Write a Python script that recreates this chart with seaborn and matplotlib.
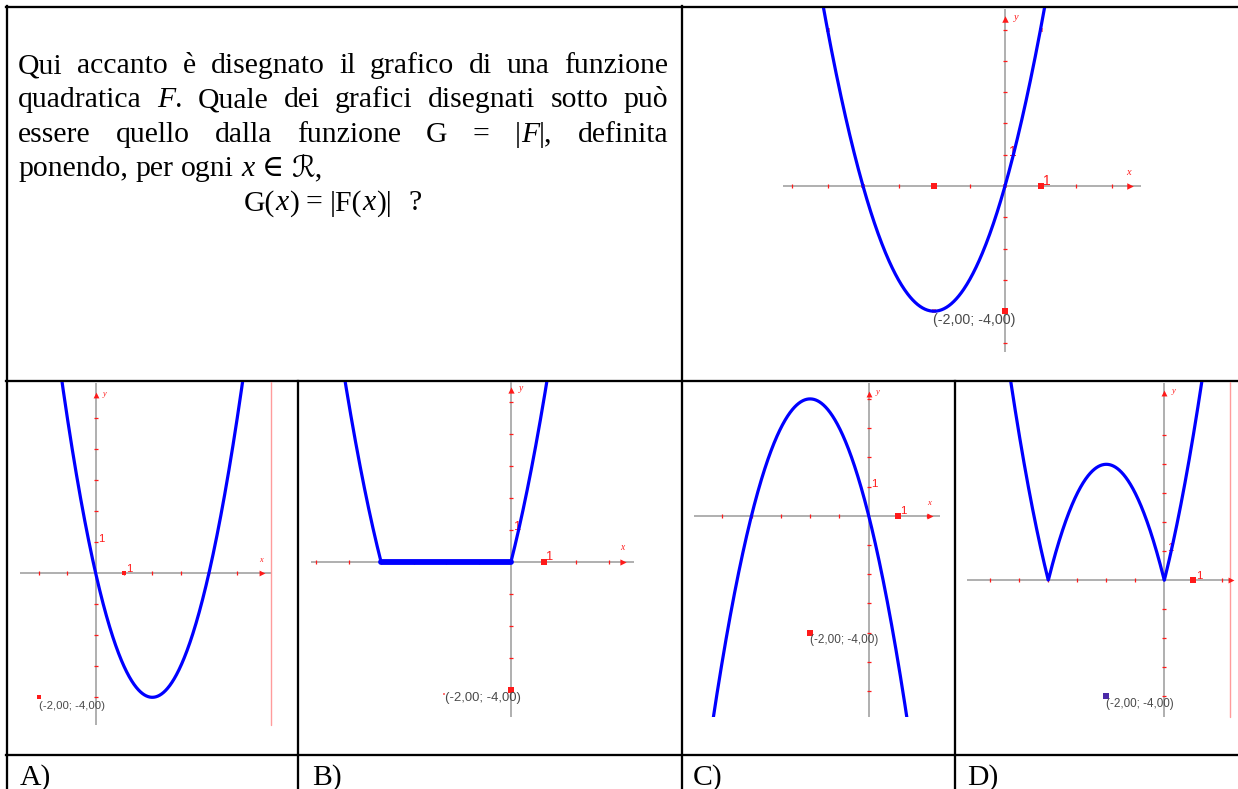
import numpy as np
import pandas as pd
import matplotlib
matplotlib.use("Agg")
import matplotlib.pyplot as plt
import seaborn as sns

W, H = 1238, 789

# ---------------- data ----------------
F_COEFFS = [1.0, 4.0, 0.0]            # F(x) = x^2 + 4x  (vertex (-2, -4), roots -4 and 0)
VERTEX = (-2.0, -4.0)
VERTEX_LABEL = "(-2,00; -4,00)"
OPTION_LABELS = ["A)", "B)", "C)", "D)"]
OPTION_KINDS = ["mirror", "clip", "neg", "abs"]   # F(-x), max(F,0), -F, |F|

Q_LINES = [
    [[("Qui", 0)], [("accanto", 0)], [("è", 0)], [("disegnato", 0)], [("il", 0)],
     [("grafico", 0)], [("di", 0)], [("una", 0)], [("funzione", 0)]],
    [[("quadratica", 0)], [("F", 1), (".", 0)], [("Quale", 0)], [("dei", 0)], [("grafici", 0)],
     [("disegnati", 0)], [("sotto", 0)], [("può", 0)]],
    [[("essere", 0)], [("quello", 0)], [("dalla", 0)], [("funzione", 0)], [("G", 0)], [("=", 0)],
     [("|", 0), ("F", 1), ("|,", 0)], [("definita", 0)]],
    [[("ponendo,", 0)], [("per", 0)], [("ogni", 0)], [("x", 1)], [("∈", 0)], [("ℛ,", 0)]],
    [[("G(", 0), ("x", 1), (")", 0)], [("=", 0)], [("|F(", 0), ("x", 1), (")|", 0)], [("?", 0)]],
]
Q_JUSTIFY = [True, True, True, False, False]

# tick values of each little coordinate system
TOP_XTICKS, TOP_YTICKS = list(range(-6, 4)), list(range(-5, 6))
A_XTICKS, A_YTICKS = list(range(-2, 6)), list(range(-4, 6))
B_XTICKS, B_YTICKS = list(range(-6, 4)), list(range(-4, 6))
C_XTICKS, C_YTICKS = list(range(-5, 3)), list(range(-6, 5))
D_XTICKS, D_YTICKS = list(range(-6, 3)), list(range(-4, 6))

TOP_BIG = [(1, 0), (-2, 0), (0, -4)]
TOP_SMALL = [(-4, 0), (0, 0), (-5, 5), (1, 5), (-2, -4)]
A_BIG, A_SMALL = [(1, 0), (-2, -4)], [(-1, 5), (5, 5), (0, 0), (4, 0), (2, -4)]
B_BIG, B_SMALL = [(1, 0), (0, -4)], [(-5, 5), (1, 5), (-2.05, -4.12)]
C_BIG, C_SMALL = [(1, 0), (-2, -4)], [(-2, 4), (0, 0)]
D_BIG, D_SMALL = [(1, 0)], [(-5, 5), (-2, 4), (-4, 0), (0, 0)]

# ---------------- style / layout ----------------
sns.set_theme(style="white")
plt.rcParams['font.family'] = ['Liberation Serif', 'DejaVu Serif', 'DejaVu Sans']
BLUE, RED, GRAY = "#0000ff", "#ff1a1a", "#9a9a9a"
FS = 21.4

fig = plt.figure(figsize=(W / 100, H / 100), dpi=100)
fig.patch.set_facecolor("white")
bg = fig.add_axes([0, 0, 1, 1], zorder=1)
bg.set_xlim(0, W)
bg.set_ylim(H, 0)
bg.set_axis_off()

# table rules
LW = 1.65
rules = [((6, 1238), (7, 7)), ((7, 7), (6, 789)), ((682, 682), (6, 789)),
         ((6, 1238), (381, 381)), ((298, 298), (381, 789)), ((955, 955), (381, 789)),
         ((6, 1238), (755, 755))]
for xs_, ys_ in rules:
    bg.plot(xs_, ys_, color="black", lw=LW, solid_capstyle="projecting")

renderer = fig.canvas.get_renderer()


def measure(s, it, fs=FS):
    t = bg.text(0, 0, s, fontsize=fs, style="italic" if it else "normal")
    w = t.get_window_extent(renderer).width
    t.remove()
    return w


SPACE = measure("a a", 0) - measure("aa", 0)


def draw_line(words, y, left, right, justify, gaps=None):
    widths = [sum(measure(s, it) for s, it in w) for w in words]
    if justify:
        gap = (right - left - sum(widths)) / (len(words) - 1)
        gaps = [gap] * (len(words) - 1)
    elif gaps is None:
        gaps = [SPACE] * (len(words) - 1)
    x = left
    for i, w in enumerate(words):
        for s, it in w:
            bg.text(x, y, s, fontsize=FS, style="italic" if it else "normal",
                    ha="left", va="baseline", color="black")
            x += measure(s, it)
        if i < len(words) - 1:
            x += gaps[i]


baselines = [73.0, 107.3, 141.6, 175.9, 210.2]
for i, words in enumerate(Q_LINES):
    if i < 4:
        draw_line(words, baselines[i], 18, 668, Q_JUSTIFY[i])
    else:
        draw_line(words, baselines[i], 244, 668, False, gaps=[SPACE, SPACE, 2.2 * SPACE])

for lab, x in zip(OPTION_LABELS, [20, 312, 693, 967]):
    bg.text(x, 784.5, lab, fontsize=FS, ha="left", va="baseline", color="black")


def curve_values(kind, xs):
    f = np.polyval(F_COEFFS, xs)
    if kind == "orig":
        return f
    if kind == "mirror":
        return np.polyval(F_COEFFS, -xs)
    if kind == "clip":
        return np.maximum(f, 0)
    if kind == "neg":
        return -f
    return np.abs(f)


def panel(rect, origin, unit, kind, xaxis, yaxis, xticks, yticks, xarrow, yarrow,
          big, small, vline=None, show_x=True):
    L, T, R, B = rect
    ox, oy = origin
    ux, uy = unit
    sc = ux / 35.5
    ax = fig.add_axes([L / W, 1 - B / H, (R - L) / W, (B - T) / H], zorder=3)
    xl = ((L - ox) / ux, (R - ox) / ux)
    yl = ((oy - B) / uy, (oy - T) / uy)
    ax.set_xlim(*xl)
    ax.set_ylim(*yl)
    ax.set_axis_off()
    ax.patch.set_visible(False)
    # coordinate axes
    ax.plot(xaxis, [0, 0], color=GRAY, lw=1.1, zorder=1, solid_capstyle="butt")
    ax.plot([0, 0], yaxis, color=GRAY, lw=1.1, zorder=1, solid_capstyle="butt")
    xt = [t for t in xticks if t != 0]
    yt = [t for t in yticks if t != 0]
    ax.scatter(xt, np.zeros(len(xt)), marker="|", s=9, color=RED, linewidths=0.9, zorder=2)
    ax.scatter(np.zeros(len(yt)), yt, marker="_", s=9, color=RED, linewidths=0.9, zorder=2)
    ax.scatter([xarrow], [0], marker=">", s=22 * sc, color=RED, zorder=2, linewidths=0)
    ax.scatter([0], [yarrow], marker="^", s=22 * sc, color=RED, zorder=2, linewidths=0)
    if show_x:
        ax.text(xarrow - 0.1, 0.3, "x", color=RED, fontsize=7.5 * sc, style="italic",
                ha="left", va="bottom", zorder=2)
    ax.text(0.25, yarrow + 0.05, "y", color=RED, fontsize=7.5 * sc, style="italic",
            ha="left", va="center", zorder=2)
    ax.text(0.1, 1.1, "1", color=RED, fontsize=10 * sc, family="Liberation Sans",
            ha="left", va="center", zorder=2)
    ax.text(1.08, 0.15, "1", color=RED, fontsize=10 * sc, family="Liberation Sans",
            ha="left", va="center", zorder=2)
    if vline is not None:
        ax.plot([vline[0], vline[0]], [vline[1], yl[1]], color="#ff9c9c", lw=1.0, zorder=1)
    # curve
    xs = np.linspace(xl[0], xl[1], 900)
    ys = curve_values(kind, xs)
    df = pd.DataFrame({"x": xs, "y": ys})
    sns.lineplot(data=df, x="x", y="y", ax=ax, color=BLUE, lw=2.3, sort=False,
                 estimator=None, zorder=5)
    if kind == "clip":
        r = np.sort(np.roots(F_COEFFS).real)
        sns.lineplot(x=list(r), y=[0, 0], ax=ax, color=BLUE, lw=4.2, sort=False,
                     estimator=None, zorder=6)
    # marked points
    bx, by = zip(*big)
    sns.scatterplot(x=list(bx), y=list(by), ax=ax, marker="s", s=16 * sc, color=RED,
                    linewidth=0, zorder=7)
    sx, sy = zip(*small)
    sns.scatterplot(x=list(sx), y=list(sy), ax=ax, marker="s", s=5 * sc, color=RED,
                    linewidth=0, alpha=0.6, zorder=4)
    ax.text(VERTEX[0] - 0.02, VERTEX[1] - 0.27, VERTEX_LABEL, fontsize=10.3 * sc,
            family="Liberation Sans", color="#4a4a4a", ha="left", va="center", zorder=8)
    return ax


# original function F (top right)
panel((684, 8, 1238, 380), (1005, 186), (35.5, 31.3), "orig", (-6.26, 3.84), (-5.3, 5.66),
      TOP_XTICKS, TOP_YTICKS, 3.52, 5.34, TOP_BIG, TOP_SMALL)
# A
panel((8, 382, 297, 754), (95.7, 573.3), (28.3, 31.0), OPTION_KINDS[0], (-2.67, 6.2), (-4.9, 6.13),
      A_XTICKS, A_YTICKS, 5.86, 5.75, A_BIG, A_SMALL, vline=(6.2, -4.9))
# B
panel((299, 382, 681, 754), (511, 561.7), (32.5, 32.0), OPTION_KINDS[1], (-6.15, 3.78), (-4.84, 5.68),
      B_XTICKS, B_YTICKS, 3.46, 5.36, B_BIG, B_SMALL)
# C
panel((683, 382, 954, 716.7), (868.7, 515.7), (29.3, 29.2), OPTION_KINDS[2], (-5.95, 2.45), (-6.88, 4.53),
      C_XTICKS, C_YTICKS, 2.1, 4.18, C_BIG, C_SMALL)
# D
axd = panel((956, 382, 1238, 754), (1164.3, 580.3), (29.0, 29.0), OPTION_KINDS[3], (-6.8, 2.26), (-4.7, 6.79),
            D_XTICKS, D_YTICKS, 2.3, 6.47, D_BIG, D_SMALL, vline=(2.26, -4.7), show_x=False)
sns.scatterplot(x=[VERTEX[0]], y=[VERTEX[1]], ax=axd, marker="s", s=14, color="#4b2aa8",
                linewidth=0, zorder=7)

fig.savefig("out.png", dpi=100, facecolor="white")
